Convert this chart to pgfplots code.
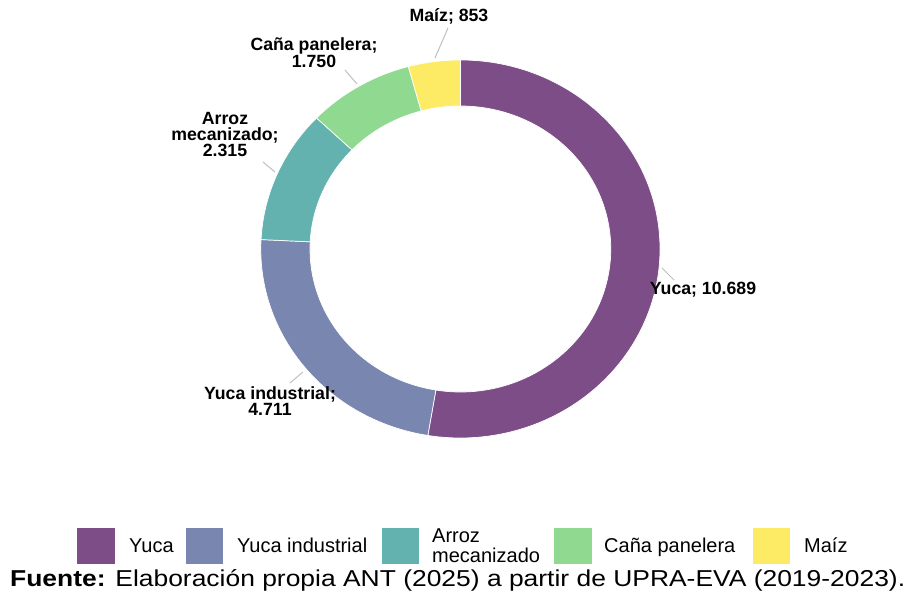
\documentclass[border=0pt]{standalone}
\usepackage{pgfplots}
\pgfplotsset{compat=1.18}
\usepackage{graphicx}
\usepackage{fontspec}
\setmainfont{Liberation Sans}

\definecolor{cYuca}{HTML}{7D4D87}
\definecolor{cInd}{HTML}{7886B0}
\definecolor{cArroz}{HTML}{64B2AF}
\definecolor{cCana}{HTML}{8FD990}
\definecolor{cMaiz}{HTML}{FDEB65}

% data (hectares)
\def\vYuca{10689}
\def\vInd{4711}
\def\vArroz{2315}
\def\vCana{1750}
\def\vMaiz{853}

\pgfmathsetmacro\tot{\vYuca/1000+\vInd/1000+\vArroz/1000+\vCana/1000+\vMaiz/1000}
\pgfmathsetmacro\aA{90}
\pgfmathsetmacro\aB{\aA-360*(\vYuca/1000)/\tot}
\pgfmathsetmacro\aC{\aB-360*(\vInd/1000)/\tot}
\pgfmathsetmacro\aD{\aC-360*(\vArroz/1000)/\tot}
\pgfmathsetmacro\aE{\aD-360*(\vCana/1000)/\tot}
\pgfmathsetmacro\aF{\aE-360*(\vMaiz/1000)/\tot}

\newcommand\seg[3]{%
  \fill[#3, draw=white, line width=0.7pt]
    ([shift={(#1:199.6pt and 189pt)}]c)
    arc[start angle=#1, end angle=#2, x radius=199.6pt, y radius=189pt]
    -- ([shift={(#2:150.4pt and 143pt)}]c)
    arc[start angle=#2, end angle=#1, x radius=150.4pt, y radius=143pt]
    -- cycle;}

\begin{document}
\begin{tikzpicture}
\begin{axis}[
  scale only axis, width=913pt, height=596pt,
  xmin=0, xmax=913, ymin=0, ymax=596,
  hide axis, clip=false,
]
\path (axis cs:0,0) rectangle (axis cs:913,596);
\coordinate (c) at (axis cs:460.4,347);
\seg{\aA}{\aB}{cYuca}
\seg{\aB}{\aC}{cInd}
\seg{\aC}{\aD}{cArroz}
\seg{\aD}{\aE}{cCana}
\seg{\aE}{\aF}{cMaiz}

% leader lines
\begin{scope}[draw=black!25, line width=1pt]
\draw (axis cs:435,538) -- (axis cs:448,568);
\draw (axis cs:345,526) -- (axis cs:357,512);
\draw (axis cs:263,434) -- (axis cs:275,424);
\draw (axis cs:290,213) -- (axis cs:303,224);
\draw (axis cs:662,328) -- (axis cs:674,316);
\end{scope}

% data labels
\begin{scope}[every node/.style={font=\bfseries\fontsize{17.7}{16}\selectfont, align=center, inner sep=0pt}]
\node at (axis cs:449,580) {Maíz; 853};
\node at (axis cs:314,543) {Caña panelera;\\1.750};
\node at (axis cs:225,461) {Arroz\\mecanizado;\\2.315};
\node at (axis cs:270,195) {Yuca industrial;\\4.711};
\node at (axis cs:703,306) {Yuca; 10.689};
\end{scope}

% legend
\fill[cYuca] (axis cs:77,32) rectangle (axis cs:115,68);
\fill[cInd] (axis cs:186,32) rectangle (axis cs:223,68);
\fill[cArroz] (axis cs:382,32) rectangle (axis cs:419,68);
\fill[cCana] (axis cs:554,32) rectangle (axis cs:592,68);
\fill[cMaiz] (axis cs:753,32) rectangle (axis cs:790,68);
\begin{scope}[every node/.style={font=\fontsize{20}{20}\selectfont, inner sep=0pt, anchor=base west}]
\node at (axis cs:129,43) {Yuca};
\node at (axis cs:237,43) {Yuca industrial};
\node at (axis cs:432,53) {Arroz};
\node at (axis cs:432,33) {mecanizado};
\node at (axis cs:604,43) {Caña panelera};
\node at (axis cs:804,43) {Maíz};
\end{scope}

% source
\node[inner sep=0pt, anchor=base west, font=\fontsize{23}{24}\selectfont] at (axis cs:10,9)
  {\resizebox{895pt}{\height}{\textbf{Fuente:} Elaboración propia ANT (2025) a partir de UPRA-EVA (2019-2023).}};
\end{axis}
\end{tikzpicture}
\end{document}
